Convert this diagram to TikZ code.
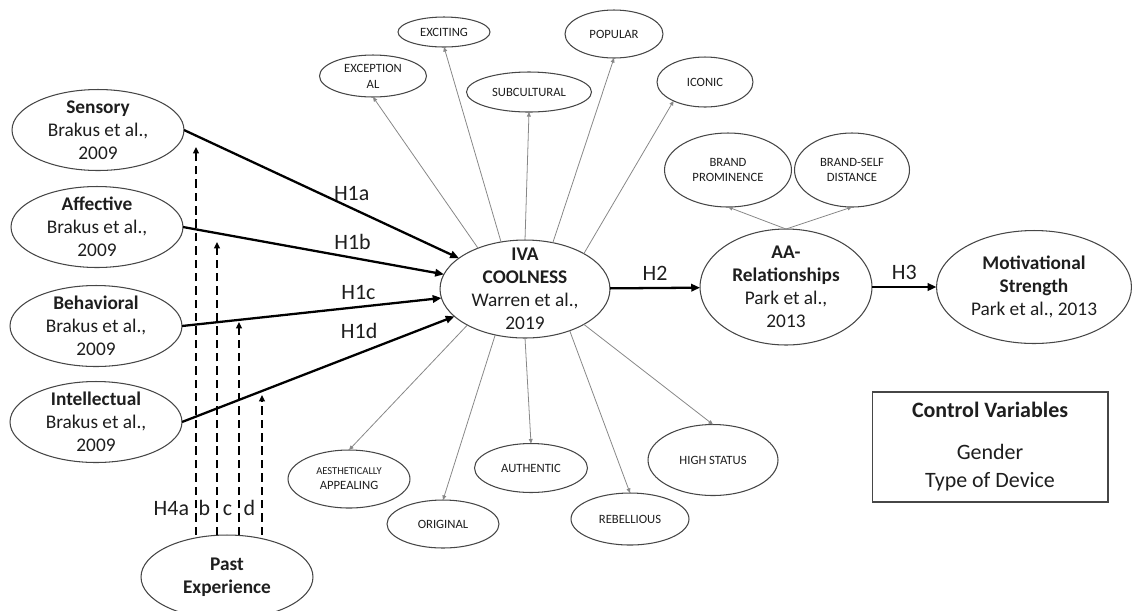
\documentclass[tikz,border=0pt]{standalone}
\usepackage{fontspec}
\setmainfont{Carlito}
\usetikzlibrary{arrows.meta, shapes.geometric}
\definecolor{inkgray}{RGB}{30, 30, 30}
\definecolor{rimgray}{RGB}{70, 70, 70}
\definecolor{thingray}{RGB}{135, 135, 135}
\tikzset{
  construct/.style={
    ellipse, draw=rimgray, line width=0.6pt,
    inner sep=-14pt, outer sep=0pt,
    text=inkgray, align=center,
    font=\fontsize{11}{13}\selectfont
  },
  facet/.style={
    ellipse, draw=rimgray, line width=0.6pt,
    inner sep=-8pt, outer sep=0pt,
    text=inkgray, align=center,
    font=\fontsize{7.2}{9}\selectfont
  },
  hyp/.style={-{Triangle[length=5pt, width=4.2pt]}, line width=1.3pt, black},
  moder/.style={-{Triangle[length=3.6pt, width=3.2pt]}, line width=1.25pt, black, dash pattern=on 4.8pt off 2.8pt},
  facetarrow/.style={-{Triangle[length=2.6pt, width=2.2pt]}, line width=0.45pt, draw=thingray},
  hlbl/.style={font=\fontsize{12.5}{15}\selectfont, text=inkgray, text height=1.55ex, text depth=0.1ex}
}

\begin{document}
\begin{tikzpicture}[
  x=0.02cm, y=-0.02cm,
  exper/.style={construct, minimum width=3.44cm, minimum height=1.62cm},
]
\useasboundingbox (0,0) rectangle (1132,610);

% Brand experience dimensions
\node[exper] (sens) at (98,130) {\textbf{Sensory}\\Brakus et al.,\\2009};
\node[exper] (affe) at (97,227) {\textbf{Affective}\\Brakus et al.,\\2009};
\node[exper] (behav) at (96,326) {\textbf{Behavioral}\\Brakus et al.,\\2009};
\node[exper] (intel) at (96,422) {\textbf{Intellectual}\\Brakus et al.,\\2009};
\node[construct, minimum width=3.44cm, minimum height=1.68cm, font=\fontsize{11}{13}\selectfont\bfseries] (pastexp) at (227,577) {Past\\Experience};

% Core constructs
\node[construct, minimum width=3.4cm, minimum height=1.96cm] (iva) at (525,289) {\textbf{IVA}\\\textbf{COOLNESS}\\Warren et al.,\\2019};
\node[construct, minimum width=3.44cm, minimum height=2.32cm] (aarel) at (786,287) {\textbf{AA-}\\\textbf{Relationships}\\Park et al.,\\2013};
\node[construct, minimum width=3.9cm, minimum height=2.26cm] (motiv) at (1034,287) {\textbf{Motivational}\\\textbf{Strength}\\Park et al., 2013};

% Coolness facets
\node[facet, minimum width=2.14cm, minimum height=0.84cm] (exc) at (373,76) {EXCEPTION\\AL};
\node[facet, minimum width=1.84cm, minimum height=0.6cm] (exciting) at (444,32) {EXCITING};
\node[facet, minimum width=2.5cm, minimum height=0.8cm] (subcult) at (529,92) {SUBCULTURAL};
\node[facet, minimum width=1.96cm, minimum height=0.96cm] (popular) at (614,34) {POPULAR};
\node[facet, minimum width=1.92cm, minimum height=1.0cm] (iconic) at (705,82) {ICONIC};
\node[facet, minimum width=2.44cm, minimum height=1.16cm, font=\fontsize{7.2}{8.5}\selectfont] (aesth) at (349,479) {{\fontsize{6}{8.5}\selectfont AESTHETICALLY}\\APPEALING};
\node[facet, minimum width=2.24cm, minimum height=0.96cm] (original) at (443,524) {ORIGINAL};
\node[facet, minimum width=2.26cm, minimum height=0.98cm] (authentic) at (531,468) {AUTHENTIC};
\node[facet, minimum width=2.36cm, minimum height=1.04cm] (rebel) at (630,519) {REBELLIOUS};
\node[facet, minimum width=2.6cm, minimum height=1.42cm] (highstat) at (713,460) {HIGH STATUS};

% Relationship facets
\node[facet, minimum width=2.54cm, minimum height=1.48cm] (brandprom) at (728,170) {BRAND\\PROMINENCE};
\node[facet, minimum width=2.3cm, minimum height=1.48cm] (brandself) at (852,170) {BRAND-SELF\\DISTANCE};

% Control variables
\node[draw=rimgray, line width=0.6pt, minimum width=4.72cm, minimum height=2.2cm, align=center, text=inkgray, font=\fontsize{12.5}{15.9}\selectfont] (ctrl) at (990,447) {\textbf{Control Variables}\\[8pt]Gender\\Type of Device};

% H1a-d
\draw[hyp] (sens.east) -- (iva) node[hlbl, pos=0.61, above] {H1a};
\draw[hyp] (affe.east) -- (iva) node[hlbl, pos=0.65, above] {H1b};
\draw[hyp] (behav.east) -- (iva) node[hlbl, pos=0.68, above] {H1c};
\draw[hyp] (intel.east) -- (iva) node[hlbl, pos=0.65, above=4pt] {H1d};

% H2, H3
\draw[hyp] (iva) -- (aarel) node[hlbl, midway, above] {H2};
\draw[hyp] (aarel) -- (motiv) node[hlbl, midway, above] {H3};

% H4 moderation tips
\coordinate (tipa) at (196,147);
\coordinate (tipb) at (217,242);
\coordinate (tipc) at (239,322);
\coordinate (tipd) at (262,395);
\draw[moder] (tipa |- pastexp.north) -- (tipa) node[hlbl, pos=0.067, left] {H4a};
\draw[moder] (tipb |- pastexp.north) -- (tipb) node[hlbl, pos=0.089, left] {b};
\draw[moder] (tipc |- pastexp.north) -- (tipc) node[hlbl, pos=0.122, left] {c};
\draw[moder] (tipd |- pastexp.north) -- (tipd) node[hlbl, pos=0.186, left] {d};

% Coolness to facets
\foreach \ang/\tgt/\anc in {139/exc/south, 117/exciting/south, 90/subcult/south, 59/popular/south, 31/iconic/211,
                            212/aesth/north, 237/original/north, 270/authentic/north, 317/rebel/north, 329/highstat/north}
  \draw[facetarrow] (iva.\ang) -- (\tgt.\anc);

\draw[facetarrow] (aarel.north) -- (brandprom.south);
\draw[facetarrow] (aarel.north) -- (brandself.south);

\end{tikzpicture}
\end{document}
